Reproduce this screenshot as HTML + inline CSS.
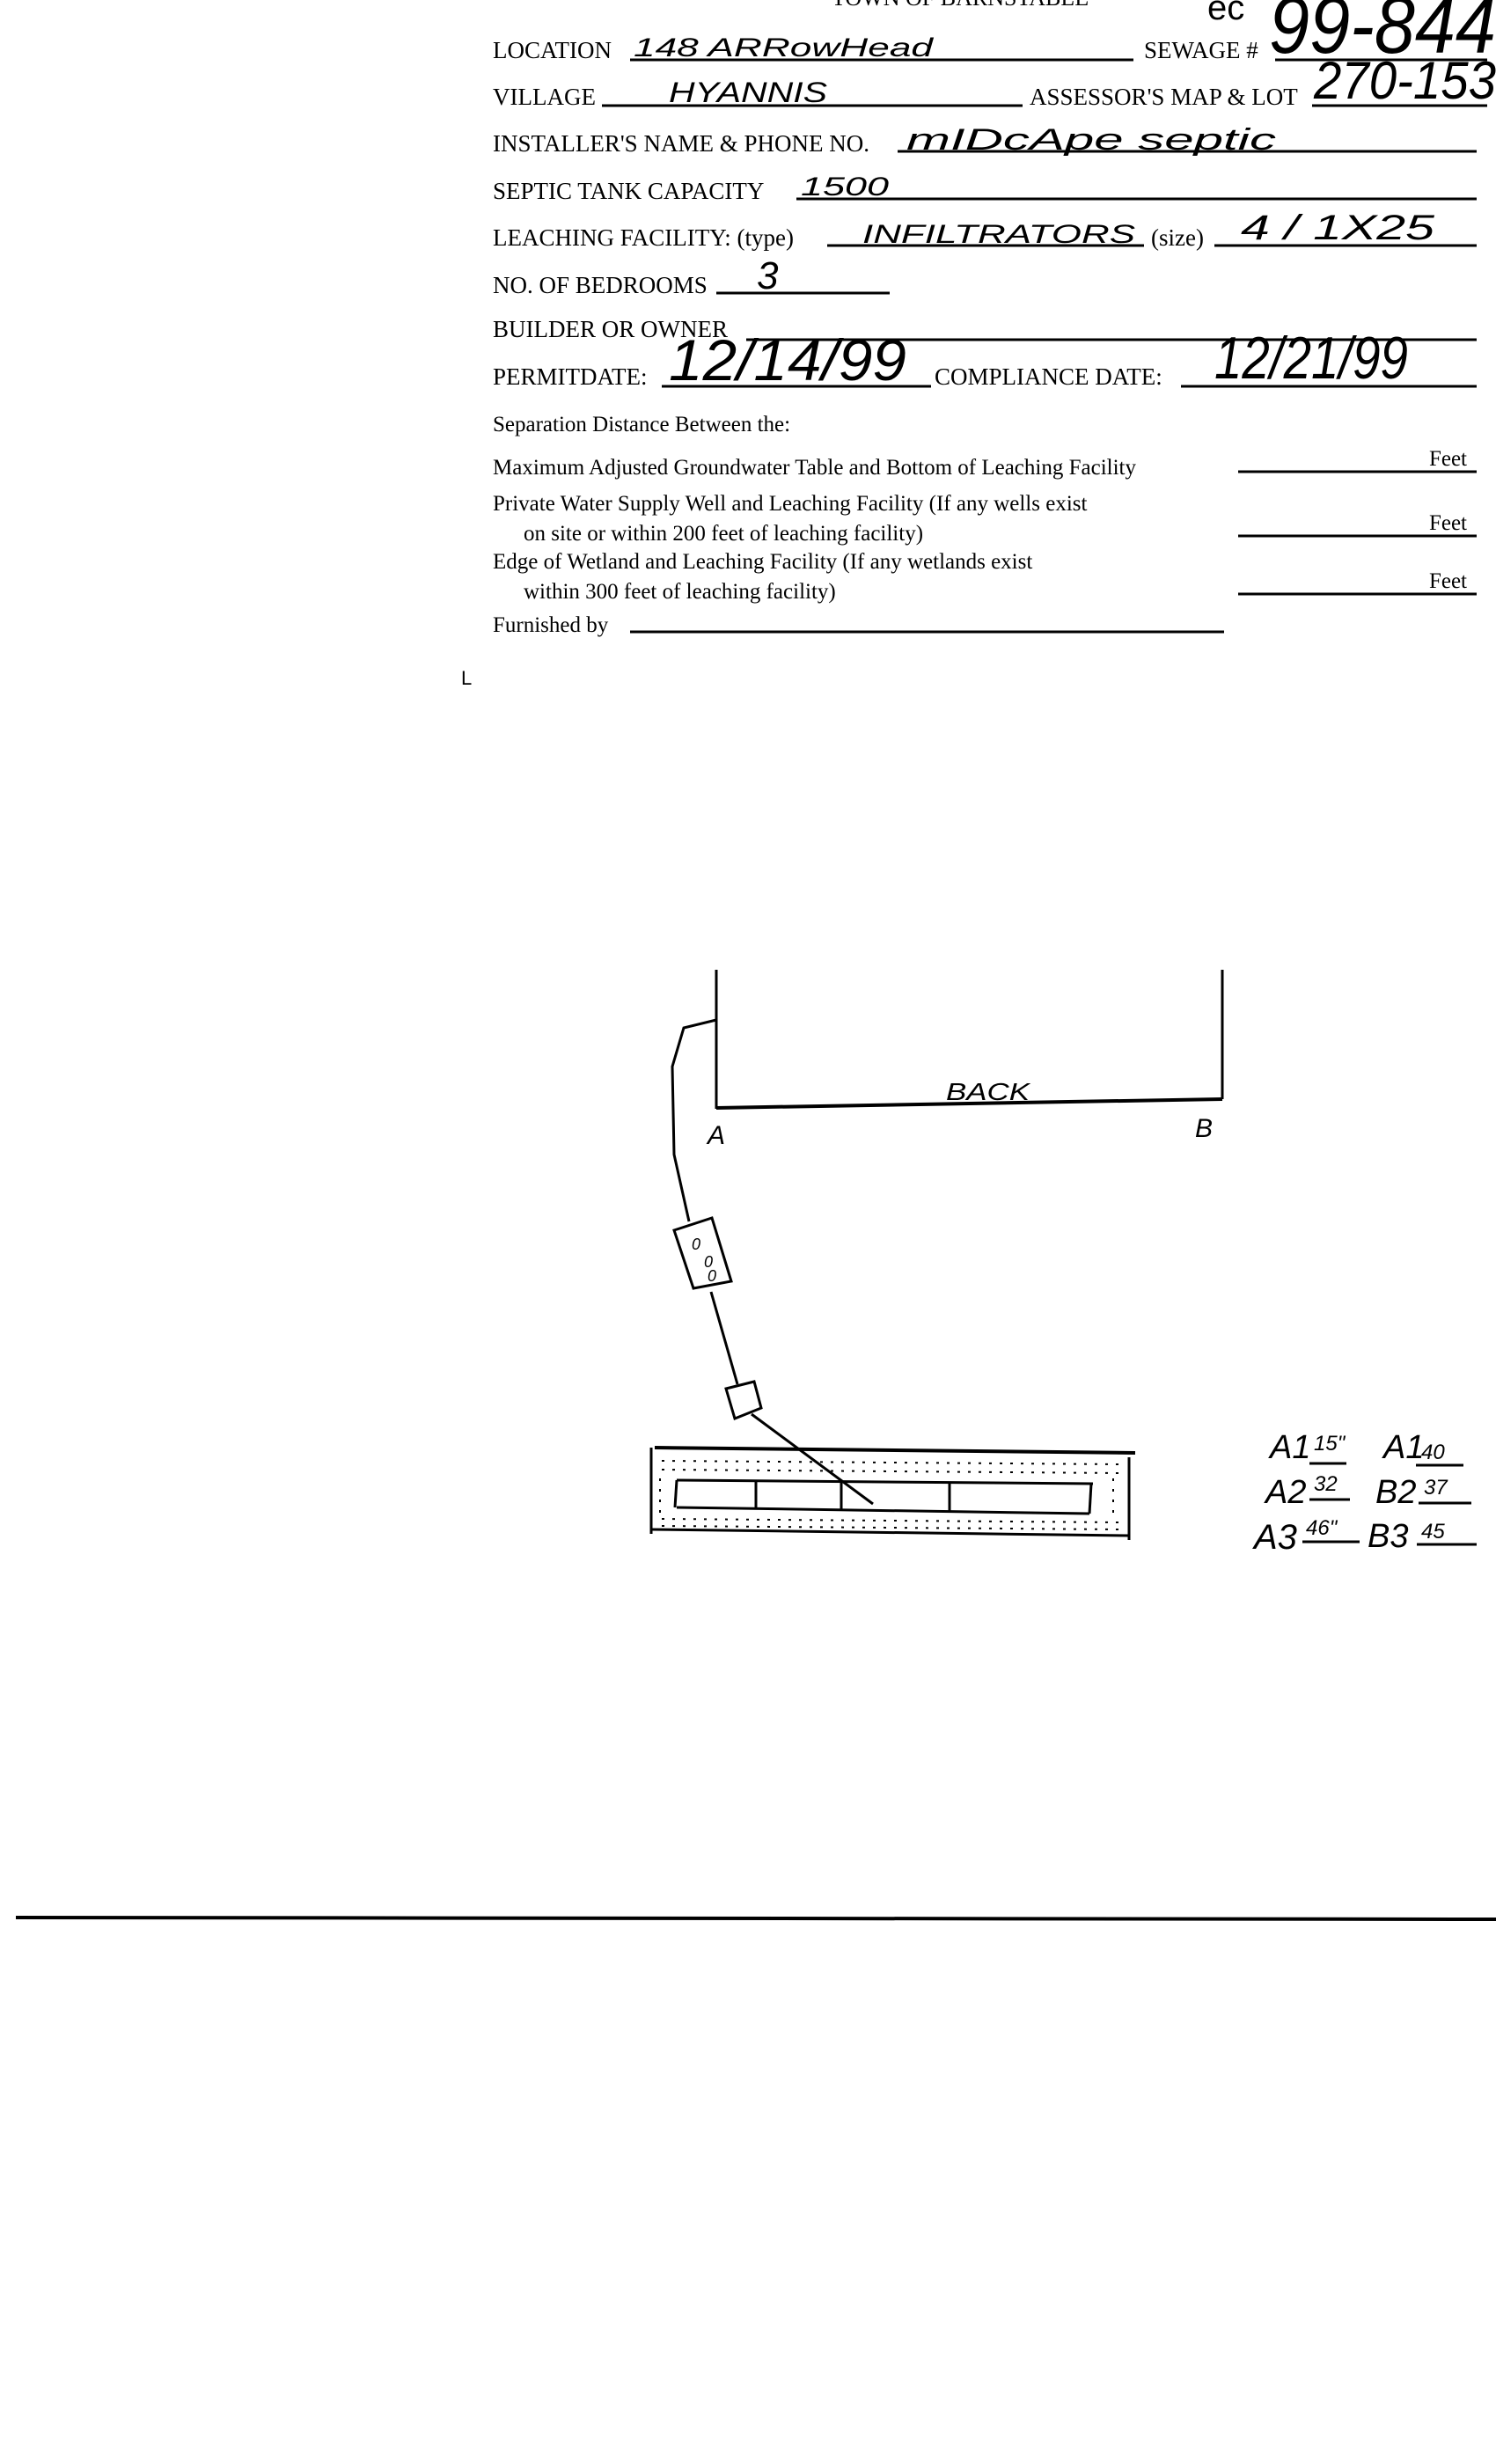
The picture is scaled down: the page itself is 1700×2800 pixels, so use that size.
<!DOCTYPE html>
<html><head><meta charset="utf-8"><style>
html,body{margin:0;padding:0;background:#fff}
svg{display:block}
.t{font-family:"Liberation Serif",serif;font-size:27px;fill:#000}
.h{font-family:"Liberation Sans",sans-serif;font-style:italic;fill:#000}
</style></head><body>
<svg width="1700" height="2800" viewBox="0 0 1700 2800" xmlns="http://www.w3.org/2000/svg">
<rect width="1700" height="2800" fill="#fff"/>
<g class="t">
<text x="945" y="6" font-size="26">TOWN OF BARNSTABLE</text>
<text x="560" y="66">LOCATION</text>
<text x="1300" y="66">SEWAGE #</text>
<text x="560" y="119">VILLAGE</text>
<text x="1170" y="119">ASSESSOR'S MAP &amp; LOT</text>
<text x="560" y="172">INSTALLER'S NAME &amp; PHONE NO.</text>
<text x="560" y="226">SEPTIC TANK CAPACITY</text>
<text x="560" y="279">LEACHING FACILITY: (type)</text>
<text x="1308" y="279">(size)</text>
<text x="560" y="333">NO. OF BEDROOMS</text>
<text x="560" y="383">BUILDER OR OWNER</text>
<text x="560" y="437">PERMITDATE:</text>
<text x="1062" y="437">COMPLIANCE  DATE:</text>
<text x="560" y="490" font-size="25">Separation Distance Between the:</text>
<text x="560" y="539" font-size="25">Maximum Adjusted Groundwater Table and Bottom of Leaching Facility</text>
<text x="560" y="580" font-size="25">Private Water Supply Well and Leaching Facility  (If any wells exist</text>
<text x="595" y="614" font-size="25">on site or within 200 feet of leaching facility)</text>
<text x="560" y="646" font-size="25">Edge of Wetland and Leaching Facility (If any wetlands exist</text>
<text x="595" y="680" font-size="25">within 300 feet of leaching facility)</text>
<text x="560" y="718" font-size="25">Furnished by</text>
<text x="1667" y="529" font-size="25" text-anchor="end">Feet</text>
<text x="1667" y="602" font-size="25" text-anchor="end">Feet</text>
<text x="1667" y="668" font-size="25" text-anchor="end">Feet</text>
</g>
<g stroke="#000" stroke-width="3">
<line x1="716" y1="68" x2="1288" y2="68"/>
<line x1="1449" y1="68" x2="1690" y2="68"/>
<line x1="684" y1="120" x2="1162" y2="120"/>
<line x1="1491" y1="120" x2="1690" y2="120"/>
<line x1="1020" y1="172" x2="1678" y2="172"/>
<line x1="905" y1="226" x2="1678" y2="226"/>
<line x1="940" y1="279" x2="1300" y2="279"/>
<line x1="1380" y1="279" x2="1678" y2="279"/>
<line x1="814" y1="333" x2="1011" y2="333"/>
<line x1="848" y1="386" x2="1678" y2="386"/>
<line x1="752" y1="439" x2="1058" y2="439"/>
<line x1="1342" y1="439" x2="1678" y2="439"/>
<line x1="1407" y1="536" x2="1678" y2="536"/>
<line x1="1407" y1="609" x2="1678" y2="609"/>
<line x1="1407" y1="675" x2="1678" y2="675"/>
<line x1="716" y1="718" x2="1391" y2="718"/>
<line x1="18" y1="2179" x2="1700" y2="2181" stroke-width="4"/>
</g>
<g class="h">
<text x="1372" y="22" font-size="40" font-style="normal">ec</text>
<text x="1442" y="60" font-size="92" textLength="258" lengthAdjust="spacingAndGlyphs">99-844</text>
<text x="1493" y="112" font-size="60" textLength="207" lengthAdjust="spacingAndGlyphs">270-153</text>
<text x="720" y="64" font-size="30" textLength="340" lengthAdjust="spacingAndGlyphs">148  ARRowHead</text>
<text x="760" y="116" font-size="32" textLength="180" lengthAdjust="spacingAndGlyphs">HYANNIS</text>
<text x="1030" y="170" font-size="34" textLength="420" lengthAdjust="spacingAndGlyphs">mIDcApe  septic</text>
<text x="910" y="222" font-size="30" textLength="100" lengthAdjust="spacingAndGlyphs">1500</text>
<text x="980" y="276" font-size="30" textLength="310" lengthAdjust="spacingAndGlyphs">INFILTRATORS</text>
<text x="1410" y="272" font-size="40" textLength="220" lengthAdjust="spacingAndGlyphs">4 / 1X25</text>
<text x="860" y="328" font-size="44">3</text>
<text x="760" y="432" font-size="66" textLength="270" lengthAdjust="spacingAndGlyphs">12/14/99</text>
<text x="1380" y="430" font-size="68" textLength="220" lengthAdjust="spacingAndGlyphs">12/21/99</text>
<text x="524" y="778" font-size="22" font-style="normal">L</text>
<text x="1075" y="1250" font-size="28" textLength="95" lengthAdjust="spacingAndGlyphs">BACK</text>
<text x="804" y="1300" font-size="30">A</text>
<text x="1358" y="1292" font-size="30">B</text>
<text x="1443" y="1657" font-size="38">A1</text>
<text x="1493" y="1648" font-size="24">15"</text>
<text x="1572" y="1657" font-size="38">A1</text>
<text x="1615" y="1658" font-size="24">40</text>
<text x="1438" y="1708" font-size="38">A2</text>
<text x="1493" y="1694" font-size="24">32</text>
<text x="1563" y="1708" font-size="38">B2</text>
<text x="1618" y="1698" font-size="24">37</text>
<text x="1425" y="1760" font-size="40">A3</text>
<text x="1484" y="1744" font-size="24">46"</text>
<text x="1554" y="1758" font-size="38">B3</text>
<text x="1615" y="1748" font-size="24">45</text>
</g>
<g stroke="#000" stroke-width="3" fill="none">
<line x1="1488" y1="1663" x2="1530" y2="1663"/>
<line x1="1609" y1="1665" x2="1663" y2="1665"/>
<line x1="1488" y1="1704" x2="1534" y2="1704"/>
<line x1="1612" y1="1708" x2="1672" y2="1708"/>
<line x1="1480" y1="1752" x2="1545" y2="1752"/>
<line x1="1610" y1="1755" x2="1678" y2="1755"/>
<line x1="814" y1="1102" x2="814" y2="1260"/>
<line x1="1389" y1="1102" x2="1389" y2="1249"/>
<line x1="814" y1="1259" x2="1389" y2="1249" stroke-width="4"/>
<polyline points="814,1159 777,1168 764,1212 766,1312 783,1388"/>
<polygon points="766,1398 809,1384 831,1456 788,1464"/>
<line x1="808" y1="1468" x2="838" y2="1573"/>
<polygon points="825,1578 857,1570 865,1600 835,1612"/>
<line x1="854" y1="1607" x2="992" y2="1709"/>
<line x1="744" y1="1645" x2="1290" y2="1651" stroke-width="4"/>
<line x1="740" y1="1645" x2="740" y2="1743"/>
<line x1="1283" y1="1656" x2="1283" y2="1750"/>
<line x1="740" y1="1738" x2="1283" y2="1745"/>
<line x1="769" y1="1682" x2="1242" y2="1686"/>
<line x1="769" y1="1713" x2="1238" y2="1720"/>
<line x1="769" y1="1682" x2="767" y2="1713"/>
<line x1="1240" y1="1686" x2="1238" y2="1720"/>
<line x1="859" y1="1684" x2="859" y2="1714"/>
<line x1="956" y1="1684" x2="956" y2="1716"/>
<line x1="1079" y1="1685" x2="1079" y2="1718"/>
</g>
<g stroke="#000" stroke-width="2" stroke-dasharray="3 9">
<line x1="752" y1="1660" x2="1275" y2="1664"/>
<line x1="752" y1="1670" x2="1275" y2="1674"/>
<line x1="752" y1="1726" x2="1275" y2="1730"/>
<line x1="752" y1="1734" x2="1275" y2="1738"/>
<line x1="750" y1="1680" x2="750" y2="1725"/>
<line x1="1265" y1="1680" x2="1265" y2="1725"/>
</g>
<g class="h" font-size="18"><text x="786" y="1420">0</text><text x="800" y="1440">0</text><text x="804" y="1456">0</text></g>
</svg>
</body></html>
